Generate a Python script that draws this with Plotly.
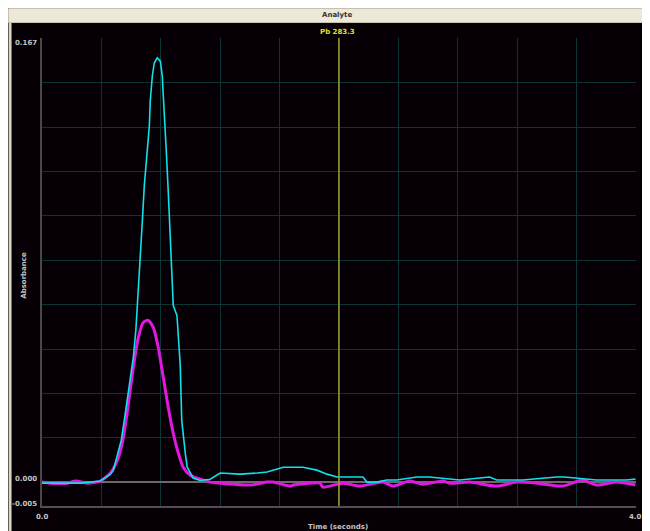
import plotly.graph_objects as go

# ---- data ----
cyan_t = [0.000, 0.124, 0.259, 0.393, 0.461, 0.481, 0.514, 0.534, 0.561, 0.595, 0.615,
          0.632, 0.645, 0.662, 0.676, 0.689, 0.707, 0.723, 0.729, 0.743, 0.756, 0.776,
          0.797, 0.810, 0.817, 0.824, 0.837, 0.850, 0.861, 0.871, 0.884, 0.909, 0.918,
          0.931, 0.941, 0.951, 0.965, 0.978, 0.998, 1.018, 1.065, 1.133, 1.200, 1.334,
          1.449, 1.516, 1.624, 1.758, 1.852, 1.919, 1.987, 2.162, 2.188, 2.255, 2.323,
          2.390, 2.524, 2.608, 2.813, 3.015, 3.062, 3.237, 3.466, 3.519, 3.734, 3.934, 3.997]
cyan_v = [-0.0004, -0.0004, -0.0004, 0.0004, 0.0030, 0.0045, 0.0109, 0.0158, 0.0259, 0.0394, 0.0470,
          0.0571, 0.0684, 0.0834, 0.0984, 0.1116, 0.1229, 0.1341, 0.1435, 0.1529, 0.1578, 0.1597,
          0.1585, 0.1529, 0.1454, 0.1360, 0.1247, 0.1097, 0.0947, 0.0796, 0.0665, 0.0627, 0.0533,
          0.0440, 0.0233, 0.0169, 0.0109, 0.0056, 0.0038, 0.0015, 0.0006, 0.0011, 0.0034, 0.0030,
          0.0034, 0.0038, 0.0056, 0.0056, 0.0045, 0.0030, 0.0019, 0.0019, 0.0000, 0.0000, 0.0008,
          0.0008, 0.0019, 0.0019, 0.0008, 0.0019, 0.0008, 0.0008, 0.0019, 0.0019, 0.0008, 0.0008, 0.0011]

mag_t = [0.000, 0.057, 0.171, 0.225, 0.306, 0.393, 0.461, 0.508, 0.541, 0.573, 0.615, 0.649,
         0.682, 0.716, 0.750, 0.783, 0.817, 0.850, 0.884, 0.918, 0.951, 0.998, 1.065, 1.133,
         1.200, 1.402, 1.516, 1.556, 1.671, 1.691, 1.872, 1.892, 2.027, 2.141, 2.296, 2.363,
         2.476, 2.565, 2.699, 2.746, 2.881, 3.062, 3.197, 3.331, 3.506, 3.640, 3.734, 3.872, 3.997]
mag_v = [0.0000, -0.0004, -0.0004, 0.0004, -0.0004, 0.0004, 0.0034, 0.0083, 0.0147, 0.0259, 0.0432, 0.0545,
         0.0601, 0.0609, 0.0582, 0.0507, 0.0394, 0.0282, 0.0184, 0.0109, 0.0056, 0.0026, 0.0011, 0.0000,
         -0.0004, -0.0011, 0.0000, 0.0000, -0.0015, -0.0011, -0.0004, -0.0019, -0.0004, -0.0015, 0.0000, -0.0015,
         0.0004, -0.0008, 0.0004, -0.0004, 0.0000, -0.0015, 0.0000, -0.0004, -0.0015, 0.0008, -0.0011, 0.0000, -0.0011]

y_tick_text = ["0.167", "0.000", "-0.005"]
x_tick_vals = [0.0, 4.0]
x_tick_text = ["0.0", "4.0"]
marker_time = 2.0

fig = go.Figure()
fig.add_trace(go.Scatter(x=mag_t, y=mag_v, mode="lines",
                         line=dict(color="#e018e0", width=3, shape="spline", smoothing=0.6), showlegend=False))
fig.add_trace(go.Scatter(x=cyan_t, y=cyan_v, mode="lines",
                         line=dict(color="#10e0e8", width=1.6), showlegend=False))

fig.add_shape(type="line", xref="x", yref="paper", x0=marker_time, x1=marker_time, y0=0, y1=1,
              line=dict(color="#a0a030", width=1.5))

# page is offset by the 8px body margin of the browser
OFF = 8
W, H = 650, 531
L, R, T, B = 41.5 - OFF, 636.5 - OFF, 37.5 - OFF, 506 - OFF


def px(x):
    return (x - OFF - L) / (R - L)


def py(y):
    return (B - (y - OFF)) / (B - T)


fig.add_shape(type="rect", xref="paper", yref="paper", x0=px(8), x1=px(11), y0=py(540), y1=py(8),
              fillcolor="#d8d4c0", line_width=0, layer="below")
fig.add_shape(type="rect", xref="paper", yref="paper", x0=px(8), x1=px(660), y0=py(22), y1=py(8),
              fillcolor="#ece9d8", line=dict(color="#c8c4b0", width=1), layer="below")

lab_font = dict(family="DejaVu Sans", size=7, color="#c4c4c4")


def note(x, y, text, font, **kw):
    fig.add_annotation(x=x, y=y, xref=kw.pop("xref", "paper"), yref=kw.pop("yref", "paper"),
                       text=text, showarrow=False, font=font,
                       xanchor=kw.pop("xanchor", "center"), yanchor=kw.pop("yanchor", "middle"), **kw)


note(px(337), py(14.5), "<b>Analyte</b>", dict(family="DejaVu Sans", size=7, color="#333333"))
note(px(337), py(31.5), "<b>Pb 283.3</b>", dict(family="DejaVu Sans", size=7, color="#e8e020"))

for ypix, t in zip([43, 479, 504], y_tick_text):
    note(px(38), py(ypix), "<b>%s</b>" % t, lab_font, xanchor="right")
for v, t in zip(x_tick_vals, x_tick_text):
    note(v, py(517), "<b>%s</b>" % t, lab_font, xref="x")

note(px(338), py(527), "<b>Time (seconds)</b>", lab_font)
note(px(24), py(275), "<b>Absorbance</b>", lab_font, textangle=-90)

fig.update_layout(
    width=W, height=H,
    margin=dict(l=L, r=W - R, t=T, b=H - B),
    paper_bgcolor="#060006", plot_bgcolor="#060006",
    showlegend=False,
)
fig.update_xaxes(range=[0, 4.0005], tick0=0, dtick=0.4, showgrid=True, gridcolor="#0b3434", gridwidth=1.2,
                 showticklabels=False, ticks="", zeroline=False,
                 showline=True, linecolor="#505050", linewidth=2, mirror=False)
fig.update_yaxes(range=[-0.009, 0.1672], tick0=0, dtick=0.0167, showgrid=True, gridcolor="#0b3434", gridwidth=1.2,
                 showticklabels=False, ticks="", zeroline=True, zerolinecolor="#6a6a6a", zerolinewidth=1.5,
                 showline=True, linecolor="#484848", linewidth=2)

fig.write_html("out.html")
